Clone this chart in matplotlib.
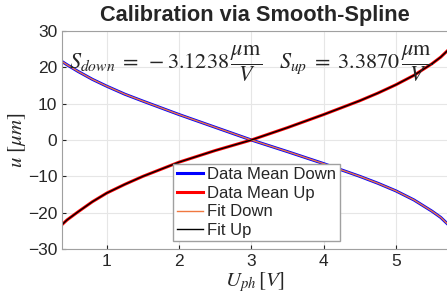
import matplotlib
matplotlib.use('Agg')
import matplotlib.pyplot as plt
import numpy as np

# values
u_ph = [0.38, 0.45, 0.6, 0.8, 1.0, 1.25, 1.5, 2.0, 2.5, 3.0, 3.5, 4.0, 4.5, 4.75, 5.0, 5.25, 5.5, 5.62, 5.72]
mean_down = [21.6, 20.7, 18.9, 16.7, 14.8, 12.6, 10.7, 7.0, 3.5, 0.0, -3.2, -6.5, -10.0, -11.9, -14.0, -16.5, -19.6, -21.3, -23.2]
mean_up = [-23.3, -22.0, -19.8, -17.0, -14.6, -12.2, -10.0, -6.1, -2.9, 0.0, 3.4, 7.0, 10.8, 12.9, 15.2, 17.8, 21.0, 22.8, 24.7]
s_down = -3.1238
s_up = 3.3870

plt.rcParams['font.family'] = ['Liberation Sans', 'DejaVu Sans']
plt.rcParams['mathtext.fontset'] = 'stix'

fig = plt.figure(figsize=(4.47, 3.01), dpi=100)
ax = fig.add_axes([0.1387, 0.1728, 0.8633, 0.7242])

ax.plot(u_ph, mean_down, color='blue', lw=2.2, label='Data Mean Down')
ax.plot(u_ph, mean_up, color='red', lw=2.2, label='Data Mean Up')
ax.plot(u_ph, mean_down, color='#f07840', lw=1, label='Fit Down')
ax.plot(u_ph, mean_up, color='black', lw=1, label='Fit Up')

ax.set_xlim(0.38, 5.72)
ax.set_ylim(-30, 30)
ax.set_xticks([1, 2, 3, 4, 5])
ax.set_yticks(np.arange(-30, 31, 10))
ax.grid(True, color='#e6e6e6', lw=0.8)
ax.tick_params(direction='in', labelsize=12.5, colors='#262626', length=3)
for sp in ax.spines.values():
    sp.set_color('#a0a0a0')

ax.set_title('Calibration via Smooth-Spline', fontsize=15.7, fontweight='bold',
             color='#262626', pad=7)
ax.set_xlabel(r'$U_{ph}\,[V]$', fontsize=15, color='#262626', labelpad=1)
ax.set_ylabel(r'$u\ [\mu m]$', fontsize=15, color='#262626', labelpad=0)

ax.text(0.48, 21.0, r'$S_{down}\;=\;%.4f\,\dfrac{\mu\mathrm{m}}{V}$' % s_down,
        fontsize=16, va='center', ha='left', color='#262626')
ax.text(3.38, 21.0, r'$S_{up}\;=\;%.4f\,\dfrac{\mu\mathrm{m}}{V}$' % s_up,
        fontsize=16, va='center', ha='left', color='#262626')

leg = ax.legend(loc='lower center', bbox_to_anchor=(0.504, 0.035), fontsize=12,
                fancybox=False, framealpha=1, edgecolor='#a0a0a0',
                handlelength=1.6, handletextpad=0.25, borderpad=0.2,
                labelspacing=0.22, borderaxespad=0)
for t in leg.get_texts():
    t.set_color('#262626')

fig.savefig('out.png', dpi=100)
